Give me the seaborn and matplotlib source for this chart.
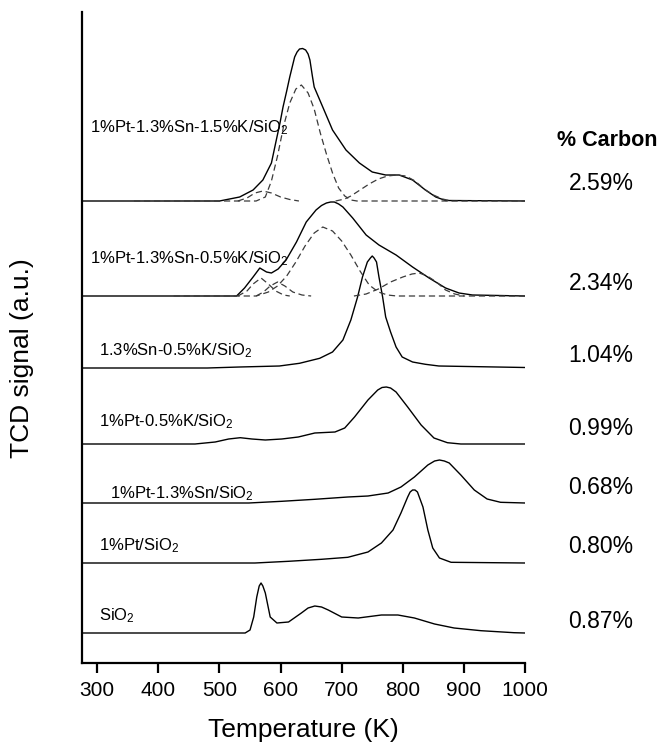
import matplotlib
matplotlib.use("Agg")
import matplotlib.pyplot as plt
import seaborn as sns
import numpy as np

# ---------------- data ----------------
samples = ["1%Pt-1.3%Sn-1.5%K/SiO$_2$", "1%Pt-1.3%Sn-0.5%K/SiO$_2$",
           "1.3%Sn-0.5%K/SiO$_2$", "1%Pt-0.5%K/SiO$_2$",
           "1%Pt-1.3%Sn/SiO$_2$", "1%Pt/SiO$_2$", "SiO$_2$"]
carbon = ["2.59%", "2.34%", "1.04%", "0.99%", "0.68%", "0.80%", "0.87%"]
offsets = [462, 367, 295, 219, 160, 100, 30]

# solid TPO profiles: temperature (K), signal height (a.u.)
t1 = [275, 500, 533, 555, 571, 585, 593, 599, 604, 610, 615, 623, 627, 631, 636, 641, 645, 648,
      652, 655, 662, 669, 685, 707, 729, 750, 772, 794, 816, 837, 854, 870, 1000]
h1 = [0, 0, 4, 11, 21, 38, 61, 78, 94, 110, 124, 144, 149, 152, 152.5, 151, 147, 141,
      125, 114, 104, 94, 71, 51, 38, 29, 26, 26, 21, 11, 4, 0.5, 0]
t2 = [275, 528, 541, 555, 566, 577, 585, 596, 609, 626, 642, 658, 667, 675, 682, 688, 695, 702, 718,
      740, 761, 789, 816, 843, 870, 892, 914, 1000]
h2 = [0, 0, 8, 19, 28, 24, 23, 27, 36, 54, 74, 86, 90.5, 93, 94, 94, 92, 89, 78,
      61, 51, 41, 29, 18, 8, 3, 1, 0]
t3 = [275, 480, 533, 598, 631, 664, 685, 702, 715, 726, 734, 742, 747, 750, 753, 757,
      761, 767, 772, 780, 789, 799, 816, 837, 859, 1000]
h3 = [0, 0, 1, 2, 4.7, 9.7, 16, 28, 48, 71, 91, 106, 110, 112, 110, 106,
      91, 71, 51, 36, 21, 11, 6, 3.7, 2, 0.5]
t4 = [275, 460, 493, 515, 534, 553, 575, 602, 629, 656, 689, 705, 721, 743, 759, 766,
      773, 780, 789, 808, 830, 851, 873, 895, 1000]
h4 = [0, 0, 2, 5, 6.3, 5, 4, 5, 7, 11, 12, 16, 27, 44, 54, 56.5,
      57, 56, 52, 37, 19, 6, 1.3, 0, 0]
t5 = [275, 548, 602, 656, 710, 743, 776, 797, 819, 841, 852, 860, 868, 876, 895, 917,
      938, 960, 1000]
h5 = [0, 0, 1.7, 3.7, 6, 7, 10, 16, 26, 38, 42, 43, 42, 40, 28, 13,
      4, 0.7, 0]
t6 = [275, 558, 613, 667, 710, 743, 765, 784, 797, 808, 812, 816, 820, 824, 833, 841,
      849, 860, 879, 1000]
h6 = [0, 0, 1.7, 3.7, 5.7, 11, 20, 33, 50, 66, 71, 73, 73, 71, 56, 33,
      15, 5, 0.7, 0]
t7 = [275, 542, 550, 556, 561, 565, 568, 571, 575, 583, 594, 613, 634, 645, 656, 667, 678, 700,
      727, 765, 792, 819, 852, 884, 928, 982, 1000]
h7 = [0, 0, 3, 16, 36, 47, 50, 47, 40, 16, 10, 11, 20, 25, 27, 26, 23, 16,
      15, 18, 18, 15, 9, 5, 2.3, 0.3, 0]

# dashed deconvoluted components
d1a_t = [360, 560, 575, 585, 595, 605, 615, 625, 634, 645, 655, 665, 675, 685, 695, 705, 715, 725, 1000]
d1a_h = [0, 0, 4, 20, 45, 75, 98, 112, 116, 108, 92, 68, 47, 28, 13, 5, 1, 0, 0]
d1b_t = [530, 545, 558, 571, 585, 600, 615, 630]
d1b_h = [0, 3, 8, 10, 8, 4, 1.5, 0]
d1c_t = [690, 705, 715, 730, 745, 760, 775, 790, 805, 820, 835, 850, 865, 880]
d1c_h = [0, 2, 5, 11, 17, 22, 25, 26, 25, 20, 12, 6, 2, 0]
d2a_t = [425, 560, 580, 595, 610, 625, 640, 655, 669, 685, 700, 715, 730, 745, 760, 775, 790, 1000]
d2a_h = [0, 0, 4, 10, 20, 34, 50, 63, 69, 65, 55, 41, 25, 11, 4, 1, 0, 0]
d2b_t = [530, 545, 555, 568, 580, 592, 605, 615]
d2b_h = [0, 5, 12, 18, 12, 5, 1, 0]
d2c_t = [560, 572, 583, 595, 607, 620, 635, 650]
d2c_h = [0, 4, 10, 14, 10, 4, 1, 0]
d2d_t = [720, 740, 760, 780, 800, 815, 827, 840, 855, 870, 885, 900]
d2d_h = [0, 2, 7, 14, 19, 22, 23, 20, 14, 6, 2, 0]

x_ticks = [300, 400, 500, 600, 700, 800, 900, 1000]

# ---------------- styling ----------------
sns.set_style("ticks")
plt.rcParams["font.family"] = ["Liberation Sans", "DejaVu Sans"]
plt.rcParams["mathtext.fontset"] = "custom"
plt.rcParams["mathtext.rm"] = "Liberation Sans"
plt.rcParams["mathtext.it"] = "Liberation Sans"
plt.rcParams["mathtext.default"] = "regular"
plt.rcParams["text.color"] = "black"
plt.rcParams["axes.labelcolor"] = "black"
plt.rcParams["xtick.color"] = "black"

W, H = 672, 746
fig = plt.figure(figsize=(W / 100, H / 100), dpi=100)
ax = fig.add_axes([82 / W, 1 - 663 / H, (525 - 82) / W, (663 - 12) / H])

solids = [(t1, h1), (t2, h2), (t3, h3), (t4, h4), (t5, h5), (t6, h6), (t7, h7)]
for (t, h), off in zip(solids, offsets):
    sns.lineplot(x=t, y=[v + off for v in h], ax=ax, color="black", lw=1.0,
                 sort=False, estimator=None)

dashed = [(d1a_t, d1a_h, offsets[0]), (d1b_t, d1b_h, offsets[0]), (d1c_t, d1c_h, offsets[0]),
          (d2a_t, d2a_h, offsets[1]), (d2b_t, d2b_h, offsets[1]), (d2c_t, d2c_h, offsets[1]),
          (d2d_t, d2d_h, offsets[1])]
for t, h, off in dashed:
    line = sns.lineplot(x=t, y=[v + off for v in h], ax=ax, color="#3a3a3a", lw=0.9,
                        sort=False, estimator=None)
    line.lines[-1].set_dashes([5, 3])

ax.set_xlim(275, 1000)
ax.set_ylim(0, 651)
ax.set_xticks(x_ticks)
ax.set_xticklabels([str(v) for v in x_ticks])
ax.set_yticks([])
sns.despine(ax=ax, top=True, right=True)
for s in ["left", "bottom"]:
    ax.spines[s].set_linewidth(1.6)
    ax.spines[s].set_color("black")
ax.tick_params(axis="x", direction="out", length=7, width=1.6, labelsize=15, pad=6,
               colors="black")

ax.set_xlabel("Temperature (K)", fontsize=19)
ax.xaxis.label.set_va("center")
ax.xaxis.set_label_coords(0.5, (663 - 730) / 651)
ax.set_ylabel("TCD signal (a.u.)", fontsize=19)
ax.yaxis.label.set_va("center")
ax.yaxis.set_label_coords((22 - 82) / 443, (663 - 358) / 651)

# sample labels (left) and carbon contents (right), placed in figure pixels
lab_pos = [(90, 128), (90, 259), (99, 351), (99, 422), (110, 494), (99, 546), (99, 616)]
for txt, (px, py) in zip(samples, lab_pos):
    fig.text(px / W, 1 - py / H, txt, fontsize=12, ha="left", va="center")

fig.text(557 / W, 1 - 141 / H, "% Carbon", fontsize=15.5, fontweight="bold",
         ha="left", va="center")
c_pos = [183, 283.5, 355, 428, 488, 546.5, 621.5]
for txt, py in zip(carbon, c_pos):
    fig.text(601 / W, 1 - py / H, txt, fontsize=16.5, ha="center", va="center")

fig.savefig("out.png", dpi=100)
